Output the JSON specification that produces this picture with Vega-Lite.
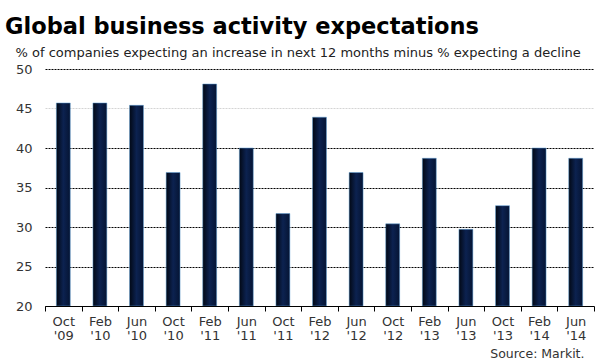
{
  "$schema": "https://vega.github.io/schema/vega-lite/v6.json",
  "width": 549,
  "height": 237,
  "autosize": {"type": "none"},
  "padding": {"left": 45, "top": 69, "right": 6, "bottom": 54},
  "background": "white",
  "title": {
    "text": "Global business activity expectations",
    "anchor": "start",
    "frame": "group",
    "font": "DejaVu Sans",
    "fontSize": 22.5,
    "fontWeight": "bold",
    "color": "#000",
    "dx": -40,
    "offset": 8
  },
  "data": {
    "values": [
      {"period": "Oct '09", "value": 45.7},
      {"period": "Feb '10", "value": 45.7},
      {"period": "Jun '10", "value": 45.4},
      {"period": "Oct '10", "value": 36.9},
      {"period": "Feb '11", "value": 48.1},
      {"period": "Jun '11", "value": 40.0},
      {"period": "Oct '11", "value": 31.7},
      {"period": "Feb '12", "value": 43.9},
      {"period": "Jun '12", "value": 36.9},
      {"period": "Oct '12", "value": 30.4},
      {"period": "Feb '13", "value": 38.7},
      {"period": "Jun '13", "value": 29.7},
      {"period": "Oct '13", "value": 32.7},
      {"period": "Feb '14", "value": 40.0},
      {"period": "Jun '14", "value": 38.7}
    ]
  },
  "mark": {
    "type": "bar",
    "width": {"band": 0.38},
    "clip": true,
    "color": {
      "gradient": "linear",
      "x1": 0, "x2": 1, "y1": 0, "y2": 0,
      "stops": [
        {"offset": 0, "color": "#020814"},
        {"offset": 0.5, "color": "#0c2250"},
        {"offset": 1, "color": "#051433"}
      ]
    },
    "stroke": "#5d9fd6",
    "strokeWidth": 0.5
  },
  "encoding": {
    "x": {
      "field": "period",
      "type": "nominal",
      "sort": null,
      "scale": {"paddingInner": 0, "paddingOuter": 0},
      "axis": {
        "title": "Source: Markit.",
        "titleX": 539,
        "titleY": 47,
        "titleAlign": "right",
        "titleBaseline": "middle",
        "titleFont": "DejaVu Sans",
        "titleFontSize": 12.5,
        "titleFontWeight": "normal",
        "titleColor": "#333",
        "labelAngle": 0,
        "labelExpr": "split(datum.label, ' ')",
        "labelFont": "DejaVu Sans",
        "labelFontSize": 13,
        "labelColor": "#333",
        "labelLineHeight": 14,
        "labelPadding": 4,
        "labelBaseline": "top",
        "tickBand": "extent",
        "tickSize": 5,
        "tickColor": "#000",
        "domainColor": "#000",
        "domainWidth": 1.2,
        "grid": false
      }
    },
    "y": {
      "field": "value",
      "type": "quantitative",
      "scale": {"domain": [20, 50], "nice": false, "zero": false},
      "axis": {
        "title": "% of companies expecting an increase in next 12 months minus % expecting a decline",
        "titleAngle": 0,
        "titleAlign": "left",
        "titleBaseline": "middle",
        "titleX": -30,
        "titleY": -17,
        "titleFont": "DejaVu Sans",
        "titleFontSize": 13,
        "titleFontWeight": "normal",
        "titleColor": "#222",
        "values": [20, 25, 30, 35, 40, 45, 50],
        "domain": false,
        "ticks": false,
        "labelPadding": 13,
        "labelFont": "DejaVu Sans",
        "labelFontSize": 13,
        "labelColor": "#333",
        "grid": true,
        "gridDash": [2, 1],
        "gridWidth": 1,
        "gridColor": {"condition": {"test": "datum.value === 45", "value": "#d4d4d4"}, "value": "#000"}
      }
    },
    "y2": {"datum": 20}
  },
  "config": {"view": {"stroke": null}}
}
